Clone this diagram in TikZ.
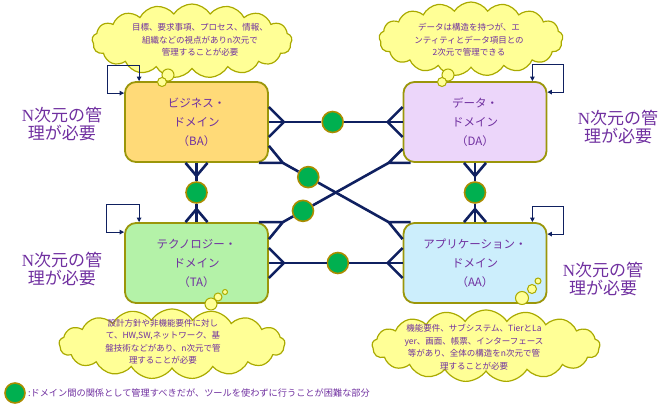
\documentclass[tikz,border=0pt]{standalone}
\usepackage{fontspec}
\setmainfont{Noto Sans CJK JP}
\newfontfamily\latinserif{Liberation Serif}
\usetikzlibrary{arrows.meta, positioning, calc, shapes.symbols}

\definecolor{bafill}{RGB}{255,218,120}
\definecolor{dafill}{RGB}{236,214,250}
\definecolor{tafill}{RGB}{180,242,168}
\definecolor{aafill}{RGB}{204,238,252}
\definecolor{boxrim}{RGB}{155,150,10}
\definecolor{cloudfill}{RGB}{255,255,150}
\definecolor{cloudrim}{RGB}{170,170,0}
\definecolor{dotgreen}{RGB}{0,176,80}
\definecolor{dotrim}{RGB}{170,140,0}
\definecolor{navy}{RGB}{15,32,96}
\definecolor{labelpurple}{RGB}{112,48,160}

\begin{document}
\begin{tikzpicture}[
    x=1pt, y=1pt,
    >={Triangle[length=4.5pt, width=4.5pt]},
    every node/.style={align=center},
    dombox/.style={draw=boxrim, line width=1.8pt, rounded corners=11pt, minimum width=143pt, minimum height=80pt, inner sep=0pt, text=labelpurple, font=\fontsize{11.5}{19}\selectfont},
    thought/.style={shape=cloud, cloud puffs=17, cloud puff arc=115, draw=cloudrim, fill=cloudfill, line width=1.2pt, inner sep=0pt},
    cloudtext/.style={inner sep=0pt, text=labelpurple, font=\fontsize{8.5}{12.5}\selectfont},
    bubble/.style={circle, draw=cloudrim, fill=cloudfill, line width=1pt, inner sep=0pt},
    gdot/.style={circle, fill=dotgreen, draw=dotrim, line width=1.6pt, minimum size=21pt, inner sep=0pt},
    rel/.style={draw=navy, line width=2.6pt},
    loopline/.style={draw=navy, line width=1pt, <->},
    nlabel/.style={text=labelpurple, font=\fontsize{17}{18.5}\selectfont}
]
\useasboundingbox (0,0) rectangle (665,416);

% clouds
\node[thought, minimum width=200pt, minimum height=74pt] (cba) at (192,375) {};
\node[cloudtext] (tba) at (200,376) {目標、要求事項、プロセス、情報、\\組織などの視点がありn次元で\\管理することが必要};
\node[thought, minimum width=184pt, minimum height=74pt] (cda) at (471,377) {};
\node[cloudtext] (tda) at (469,376) {データは構造を持つが、エ\\ンティティとデータ項目との\\2次元で管理できる};
\node[thought, minimum width=226pt, minimum height=70pt] (cta) at (172,72) {};
\node[cloudtext] (tta) at (163,74) {設計方針や非機能要件に対し\\て、HW,SW,ネットワーク、基\\盤技術などがあり、n次元で管\\理することが必要};
\node[thought, minimum width=228pt, minimum height=72pt] (caa) at (486,70) {};
\node[cloudtext] (taa) at (474,69) {機能要件、サブシステム、TierとLa\\yer、画面、帳票、インターフェース\\等があり、全体の構造をn次元で管\\理することが必要};

% domains
\node[dombox, fill=bafill] (BA) at (196.5,294) {ビジネス・\\ドメイン\\（BA）};
\node[dombox, fill=dafill] (DA) at (475,294) {データ・\\ドメイン\\（DA）};
\node[dombox, fill=tafill] (TA) at (196.5,153) {テクノロジー・\\ドメイン\\（TA）};
\node[dombox, fill=aafill] (AA) at (475,153) {アプリケーション・\\ドメイン\\（AA）};

% thought bubbles
\node[bubble, minimum size=12pt] (bba1) at (168,341) {};
\node[bubble, minimum size=9pt] (bba2) at (162,334) {};
\node[bubble, minimum size=12pt] (bda1) at (448,341) {};
\node[bubble, minimum size=9pt] (bda2) at (442,334) {};
\node[bubble, minimum size=5pt] (bta1) at (225,124) {};
\node[bubble, minimum size=8pt] (bta2) at (218,119) {};
\node[bubble, minimum size=12pt] (bta3) at (211,112) {};
\node[bubble, minimum size=6pt] (baa1) at (538,135) {};
\node[bubble, minimum size=9pt] (baa2) at (532,127) {};
\node[bubble, minimum size=13pt] (baa3) at (522,118) {};

% self loops
\draw[loopline] ($(BA.north west)+(15,0)$) -- ++(0,16) -| ($(BA.north west)+(-17,-12)$) -- ($(BA.north west)+(0,-12)$);
\draw[loopline] ($(DA.north east)+(-15,0)$) -- ++(0,17) -| ($(DA.north east)+(16,-11)$) -- ($(DA.north east)+(0,-11)$);
\draw[loopline] ($(TA.north west)+(15,0)$) -- ++(0,18) -| ($(TA.north west)+(-18,-10)$) -- ($(TA.north west)+(0,-10)$);
\draw[loopline] ($(AA.north east)+(-15,0)$) -- ++(0,16) -| ($(AA.north east)+(16,-12)$) -- ($(AA.north east)+(0,-12)$);

% crow feet, horizontal
\draw[rel] ($(BA.east)+(0,15)$) -- ($(BA.east)+(15,0)$) coordinate (ba-da) -- ($(BA.east)+(0,-15)$);
\draw[rel] ($(DA.west)+(0,15)$) -- ($(DA.west)+(-15,0)$) coordinate (da-ba) -- ($(DA.west)+(0,-15)$);
\draw[rel] ($(TA.east)+(0,15)$) -- ($(TA.east)+(15,0)$) coordinate (ta-aa) -- ($(TA.east)+(0,-15)$);
\draw[rel] ($(AA.west)+(0,15)$) -- ($(AA.west)+(-15,0)$) coordinate (aa-ta) -- ($(AA.west)+(0,-15)$);
% crow feet, vertical
\draw[rel] ($(BA.south)+(-11,0)$) -- ($(BA.south)+(0,-13)$) coordinate (ba-ta) -- ($(BA.south)+(11,0)$);
\draw[rel] ($(TA.north)+(-11,0)$) -- ($(TA.north)+(0,13)$) coordinate (ta-ba) -- ($(TA.north)+(11,0)$);
\draw[rel] ($(DA.south)+(-11,0)$) -- ($(DA.south)+(0,-13)$) coordinate (da-aa) -- ($(DA.south)+(11,0)$);
\draw[rel] ($(AA.north)+(-11,0)$) -- ($(AA.north)+(0,13)$) coordinate (aa-da) -- ($(AA.north)+(11,0)$);
% crow feet, corners
\draw[rel] ($(BA.south east)+(-10,0)$) -- ($(BA.south east)+(14,0)$) coordinate (ba-aa) -- ($(BA.south east)+(0,17)$);
\draw[rel] ($(AA.north west)+(8,0)$) -- ($(AA.north west)+(-14,0)$) coordinate (aa-ba) -- ($(AA.north west)+(0,-17)$);
\draw[rel] ($(TA.north east)+(-10,0)$) -- ($(TA.north east)+(14,0)$) coordinate (ta-da) -- ($(TA.north east)+(0,-17)$);
\draw[rel] ($(DA.south west)+(8,0)$) -- ($(DA.south west)+(-14,0)$) coordinate (da-ta) -- ($(DA.south west)+(0,14)$);

% green marks
\node[gdot] (g-bd) at ($(ba-da)!0.47!(da-ba)$) {};
\node[gdot] (g-ta) at ($(ta-aa)!0.52!(aa-ta)$) {};
\node[gdot] (g-bt) at ($(ba-ta)!0.5!(ta-ba)$) {};
\node[gdot] (g-da) at ($(da-aa)!0.5!(aa-da)$) {};
\node[gdot] (g-ba) at ($(ba-aa)!0.24!(aa-ba)$) {};
\node[gdot] (g-td) at ($(ta-da)!0.19!(da-ta)$) {};

% relations
\draw[rel] (BA.east) -- (ba-da) -- (g-bd) -- (da-ba) -- (DA.west);
\draw[rel] (TA.east) -- (ta-aa) -- (g-ta) -- (aa-ta) -- (AA.west);
\draw[rel] (BA.south) -- (ba-ta) -- (g-bt) -- (ta-ba) -- (TA.north);
\draw[rel] (DA.south) -- (da-aa) -- (g-da) -- (aa-da) -- (AA.north);
\draw[rel] (ba-aa) -- (g-ba) -- (aa-ba);
\draw[rel] (ta-da) -- (g-td) -- (da-ta);

% N-dimensional notes
\node[nlabel] (nba) at (62,292) {{\latinserif N}次元の管\\理が必要};
\node[nlabel] (nda) at (618,289) {{\latinserif N}次元の管\\理が必要};
\node[nlabel] (nta) at (62,147) {{\latinserif N}次元の管\\理が必要};
\node[nlabel] (naa) at (603,137) {{\latinserif N}次元の管\\理が必要};

% legend
\node[gdot, minimum size=20pt] (key) at (15,23) {};
\node[right=2pt of key, inner sep=0pt, text=labelpurple, font=\fontsize{9.2}{10}\selectfont] (keytext) {:ドメイン間の関係として管理すべきだが、ツールを使わずに行うことが困難な部分};

\end{tikzpicture}
\end{document}
